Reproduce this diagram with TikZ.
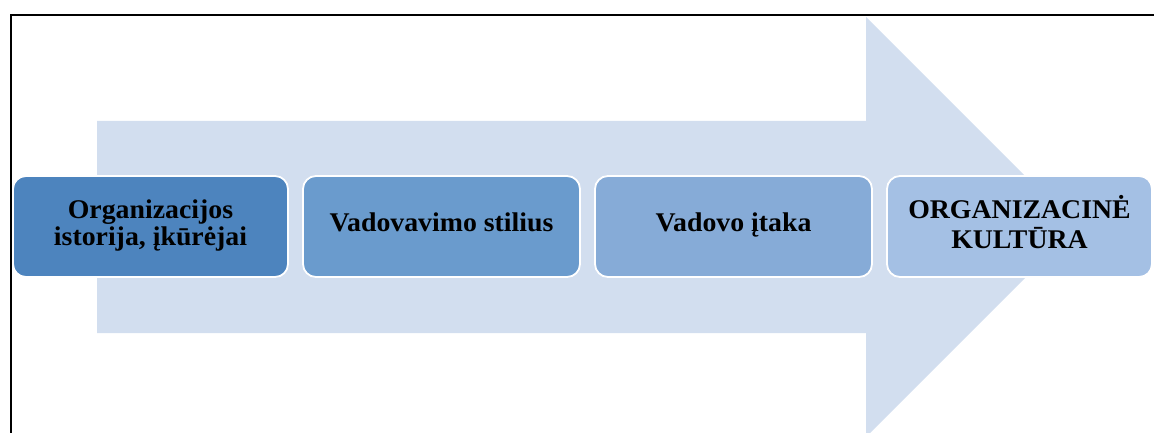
\documentclass[tikz,border=0pt]{standalone}
\usepackage{fontspec}
\usepackage{graphicx}
\setmainfont{Liberation Serif}
\definecolor{arrowfill}{HTML}{D2DEEF}
\definecolor{boxa}{HTML}{4D84BE}
\definecolor{boxb}{HTML}{6A9BCD}
\definecolor{boxc}{HTML}{86ABD7}
\definecolor{boxd}{HTML}{A4C0E4}
\newcommand{\boxtext}[2][26]{\scalebox{1.03}[1]{\fontsize{27}{#1}\selectfont\begin{tabular}{@{}c@{}}#2\end{tabular}}}
\begin{document}
\begin{tikzpicture}[x=1pt,y=-1pt,
  stepbox/.style={draw=white, line width=1.8pt, rounded corners=13pt,
    minimum height=101pt, inner sep=0pt, align=center,
    font=\bfseries},
  frameline/.style={line width=2.4pt, draw=black}
]
\useasboundingbox (0,0) rectangle (1154,433);
\clip (0,0) rectangle (1154,433);
% big background arrow
\fill[arrowfill] (97,121) -- (866,121) -- (866,17) -- (1076,227) -- (866,437)
  -- (866,333) -- (97,333) -- cycle;
% frame
\draw[frameline] (11,434) -- (11,15) -- (1155,15);
% boxes
\node[stepbox, fill=boxa, minimum width=275pt] (b1) at (150.5,226.5)
  {\boxtext{Organizacijos\\istorija, įkūrėjai}};
\node[stepbox, fill=boxb, minimum width=277pt] (b2) at (441.5,226.5)
  {\boxtext{Vadovavimo stilius}};
\node[stepbox, fill=boxc, minimum width=277pt] (b3) at (733.5,226.5)
  {\boxtext{Vadovo įtaka}};
\node[stepbox, fill=boxd, minimum width=265pt] (b4) at (1019.5,226.5)
  {\boxtext[29]{ORGANIZACINĖ\\KULTŪRA}};
\end{tikzpicture}
\end{document}
